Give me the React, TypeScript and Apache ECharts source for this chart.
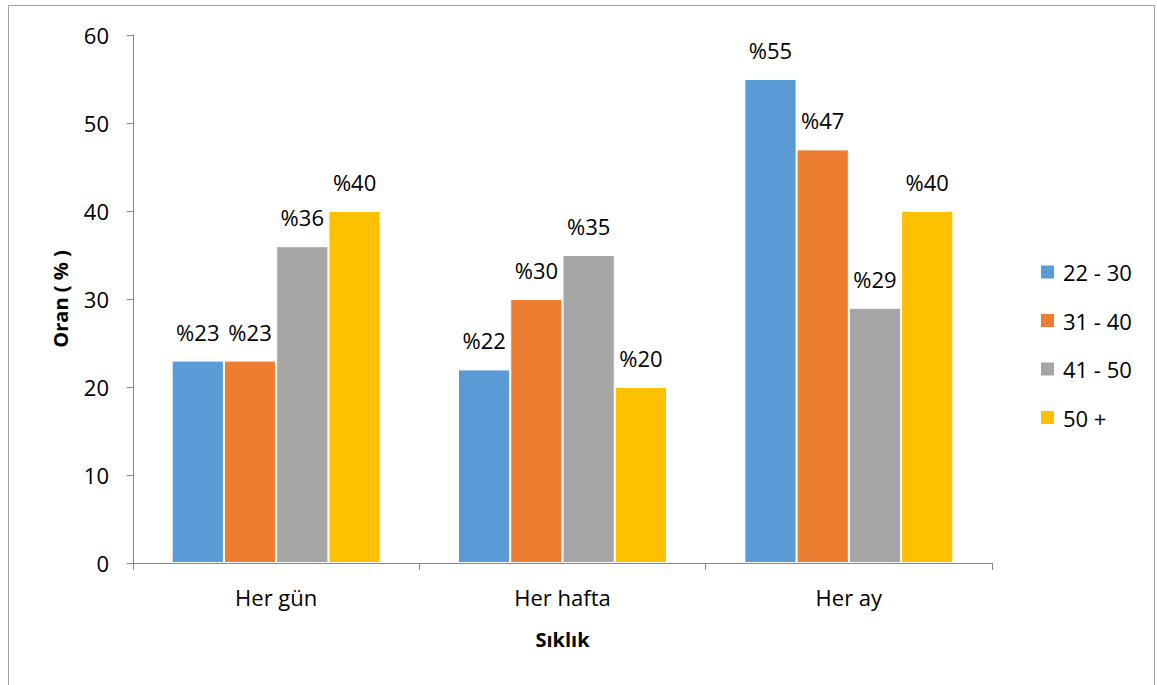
import React, { useEffect, useRef } from "react";
import * as echarts from "echarts";

// Frequency categories (x axis)
const categories = ["Her gün", "Her hafta", "Her ay"];

// Age groups and their shares (%) per frequency
const ageGroups = ["22 - 30", "31 - 40", "41 - 50", "50 +"];
const age22to30 = [23, 22, 55];
const age31to40 = [23, 30, 47];
const age41to50 = [36, 35, 29];
const age50plus = [40, 20, 40];

const seriesValues = [age22to30, age31to40, age41to50, age50plus];
const colors = ["#5B9BD5", "#ED7D31", "#A5A5A5", "#FFC000"];

const FONT = "'Open Sans', 'Noto Sans', sans-serif";
const AXIS_GRAY = "#868686";

export default function App() {
  const ref = useRef<HTMLDivElement>(null);

  useEffect(() => {
    if (!ref.current) return;
    const chart = echarts.init(ref.current, null, { renderer: "svg" });

    chart.setOption({
      animation: false,
      textStyle: { fontFamily: FONT },
      graphic: [
        {
          type: "rect",
          shape: { x: 8.5, y: 5.5, width: 1146, height: 700 },
          style: { fill: "none", stroke: "#A0A0A0", lineWidth: 1 },
          silent: true,
        },
      ],
      grid: { left: 133, right: 165, top: 35, bottom: 122, containLabel: false },
      legend: {
        orient: "vertical",
        left: 1034,
        top: 256,
        itemWidth: 15,
        itemHeight: 15,
        itemGap: 26.5,
        icon: "rect",
        data: ageGroups,
        textStyle: {
          fontFamily: FONT,
          fontSize: 22,
          color: "#000",
          lineHeight: 21,
          padding: [0, 0, 0, 3],
        },
      },
      xAxis: {
        type: "category",
        data: categories,
        name: "Sıklık",
        nameLocation: "middle",
        nameGap: 66,
        nameTextStyle: { fontFamily: FONT, fontSize: 20, fontWeight: "bold", color: "#000" },
        axisLine: { show: true, lineStyle: { color: AXIS_GRAY, width: 1 } },
        axisTick: { show: true, length: 7, lineStyle: { color: AXIS_GRAY } },
        axisLabel: { fontFamily: FONT, fontSize: 22, color: "#000", margin: 23 },
        splitLine: { show: false },
      },
      yAxis: {
        type: "value",
        min: 0,
        max: 60,
        interval: 10,
        name: "Oran ( % )",
        nameLocation: "middle",
        nameGap: 63,
        nameTextStyle: { fontFamily: FONT, fontSize: 20, fontWeight: "bold", color: "#000" },
        axisLine: { show: true, lineStyle: { color: AXIS_GRAY, width: 1 } },
        axisTick: { show: true, length: 6, lineStyle: { color: AXIS_GRAY } },
        axisLabel: { fontFamily: FONT, fontSize: 22, color: "#000", margin: 24 },
        splitLine: { show: false },
      },
      series: ageGroups.map((name, i) => ({
        name,
        type: "bar",
        data: seriesValues[i],
        barGap: "0%",
        barCategoryGap: "27%",
        itemStyle: { color: colors[i], borderColor: "#FFFFFF", borderWidth: 1 },
        label: {
          show: true,
          position: "top",
          distance: 18,
          formatter: "%{c}",
          fontFamily: FONT,
          fontSize: 22,
          color: "#000",
        },
      })),
    });

    return () => chart.dispose();
  }, []);

  return (
    <div
      ref={ref}
      style={{ position: "absolute", left: 0, top: 0, width: 1157, height: 685, background: "#fff" }}
    />
  );
}
